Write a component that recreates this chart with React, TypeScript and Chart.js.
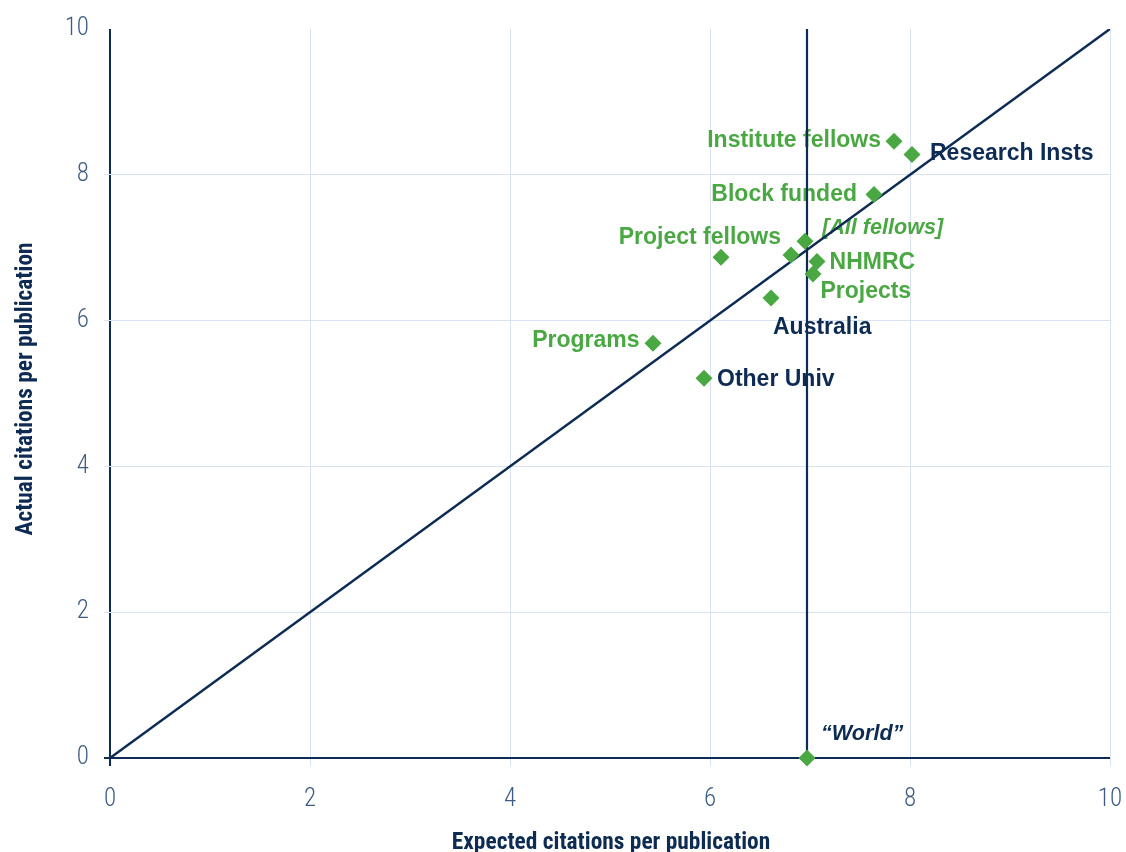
import { useEffect, useRef } from 'react';
import { Chart, registerables } from 'chart.js';

Chart.register(...registerables);

// ---- data ----
const pointNames = [
  'Institute fellows',
  'Research Insts',
  'Block funded',
  '[All fellows]',
  'Project fellows',
  '',
  'NHMRC',
  'Projects',
  'Australia',
  'Programs',
  'Other Univ',
  '\u201CWorld\u201D',
];
const expectedCitations = [7.84, 8.02, 7.64, 6.95, 6.81, 6.11, 7.07, 7.03, 6.61, 5.43, 5.94, 6.97];
const actualCitations = [8.46, 8.28, 7.73, 7.09, 6.9, 6.87, 6.81, 6.64, 6.31, 5.69, 5.21, 0];
const worldExpected = 6.97;
const parityLineX = [0, 10];
const parityLineY = [0, 10];
const axisMin = 0;
const axisMax = 10;
const tickStep = 2;
const xTitle = 'Expected citations per publication';
const yTitle = 'Actual citations per publication';

// ---- label styling (not data) ----
const labelTone = ['g', 'n', 'g', 'g', 'g', 'g', 'g', 'g', 'n', 'g', 'n', 'n'];
const labelItalic = [false, false, false, true, false, false, false, false, false, false, false, true];
const labelAlign: CanvasTextAlign[] = ['right', 'left', 'right', 'left', 'right', 'left', 'left', 'left', 'left', 'right', 'left', 'left'];
const labelDx = [-13, 18, -17, 17, -10, 0, 12.6, 7.4, 2, -13.4, 13, 14];
const labelDy = [5.5, 6, 6.7, -7.4, -10.7, 0, 7.6, 24, 36, 4, 7.7, -18];

const NAVY = '#0d2b53';
const GREEN = '#4aa843';
const GRID = '#d9e2f0';
const TICK = '#3f5d82';
const NARROW = '"Liberation Sans Narrow", "Arial Narrow", "Roboto Condensed", "Liberation Sans", sans-serif';

const labelPlugin = {
  id: 'pointLabels',
  beforeDatasetsDraw(chart: any) {
    const { ctx, scales } = chart;
    const xs = scales.x;
    const ys = scales.y;
    ctx.save();
    ctx.textBaseline = 'alphabetic';
    pointNames.forEach((name, i) => {
      if (!name) return;
      const px = xs.getPixelForValue(expectedCitations[i]);
      const py = ys.getPixelForValue(actualCitations[i]);
      ctx.font = labelItalic[i]
        ? 'italic bold 21.6px "Liberation Sans", Arial, sans-serif'
        : 'bold 23px "Liberation Sans", Arial, sans-serif';
      ctx.fillStyle = labelTone[i] === 'g' ? GREEN : NAVY;
      ctx.textAlign = labelAlign[i];
      ctx.fillText(name, px + labelDx[i], py + labelDy[i]);
    });
    ctx.restore();
  },
  afterDraw(chart: any) {
    const { ctx, chartArea } = chart;
    ctx.save();
    ctx.fillStyle = NAVY;
    ctx.font = 'bold 23.4px ' + NARROW;
    ctx.textAlign = 'center';
    ctx.textBaseline = 'alphabetic';
    ctx.fillText(xTitle, (chartArea.left + chartArea.right) / 2 + 1, 849);
    ctx.translate(32, 389);
    ctx.rotate(-Math.PI / 2);
    ctx.fillText(yTitle, 0, 0);
    ctx.restore();
  },
};

export default function App() {
  const ref = useRef<HTMLCanvasElement | null>(null);
  useEffect(() => {
    if (!ref.current) return;
    const scatterData = expectedCitations.map((x, i) => ({ x, y: actualCitations[i] }));
    const parity = parityLineX.map((x, i) => ({ x, y: parityLineY[i] }));
    const world = [
      { x: worldExpected, y: axisMin },
      { x: worldExpected, y: axisMax },
    ];
    const gridColor = (c: any) => (c.tick && c.tick.value === 0 ? NAVY : GRID);
    const gridWidth = (c: any) => (c.tick && c.tick.value === 0 ? 2 : 1);
    const chart = new Chart(ref.current, {
      type: 'scatter',
      data: {
        datasets: [
          {
            label: 'points',
            data: scatterData,
            backgroundColor: GREEN,
            borderWidth: 0,
            pointStyle: 'rectRot',
            pointRadius: 8.5,
            pointHoverRadius: 8.5,
            clip: false,
            order: 0,
          } as any,
          {
            label: 'parity',
            type: 'line',
            data: parity,
            borderColor: NAVY,
            borderWidth: 2.5,
            pointRadius: 0,
            showLine: true,
            fill: false,
            order: 1,
          } as any,
          {
            label: 'world',
            type: 'line',
            data: world,
            borderColor: NAVY,
            borderWidth: 2.2,
            pointRadius: 0,
            showLine: true,
            fill: false,
            order: 1,
          } as any,
        ],
      },
      options: {
        animation: false,
        responsive: false,
        events: [],
        layout: { padding: { top: 29, right: 16, left: 0, bottom: 0 } },
        plugins: { legend: { display: false }, tooltip: { enabled: false } },
        scales: {
          x: {
            type: 'linear',
            min: axisMin,
            max: axisMax,
            afterFit: (s: any) => {
              s.height = 94;
              s.paddingRight = 0;
              s.paddingLeft = 0;
            },
            border: { display: false },
            grid: { color: gridColor, lineWidth: gridWidth, tickLength: 8, drawTicks: true },
            ticks: {
              stepSize: tickStep,
              color: TICK,
              font: { family: NARROW, size: 25, weight: 300 },
              padding: 19,
              maxRotation: 0,
            },
          },
          y: {
            type: 'linear',
            min: axisMin,
            max: axisMax,
            afterFit: (s: any) => {
              s.width = 110;
              s.paddingTop = 0;
              s.paddingBottom = 0;
            },
            border: { display: false },
            grid: {
              color: (c: any) => (c.tick && c.tick.value === axisMax ? 'rgba(0,0,0,0)' : gridColor(c)),
              lineWidth: gridWidth,
              tickLength: 6,
            },
            ticks: {
              stepSize: tickStep,
              color: TICK,
              font: { family: NARROW, size: 25, weight: 300 },
              padding: 15,
            },
          },
        },
      },
      plugins: [labelPlugin],
    });
    return () => chart.destroy();
  }, []);
  return (
    <div style={{ position: 'fixed', left: 0, top: 0, width: 1126, height: 852, background: '#fff' }}>
      <canvas ref={ref} width={1126} height={852} style={{ width: 1126, height: 852, display: 'block' }} />
    </div>
  );
}
